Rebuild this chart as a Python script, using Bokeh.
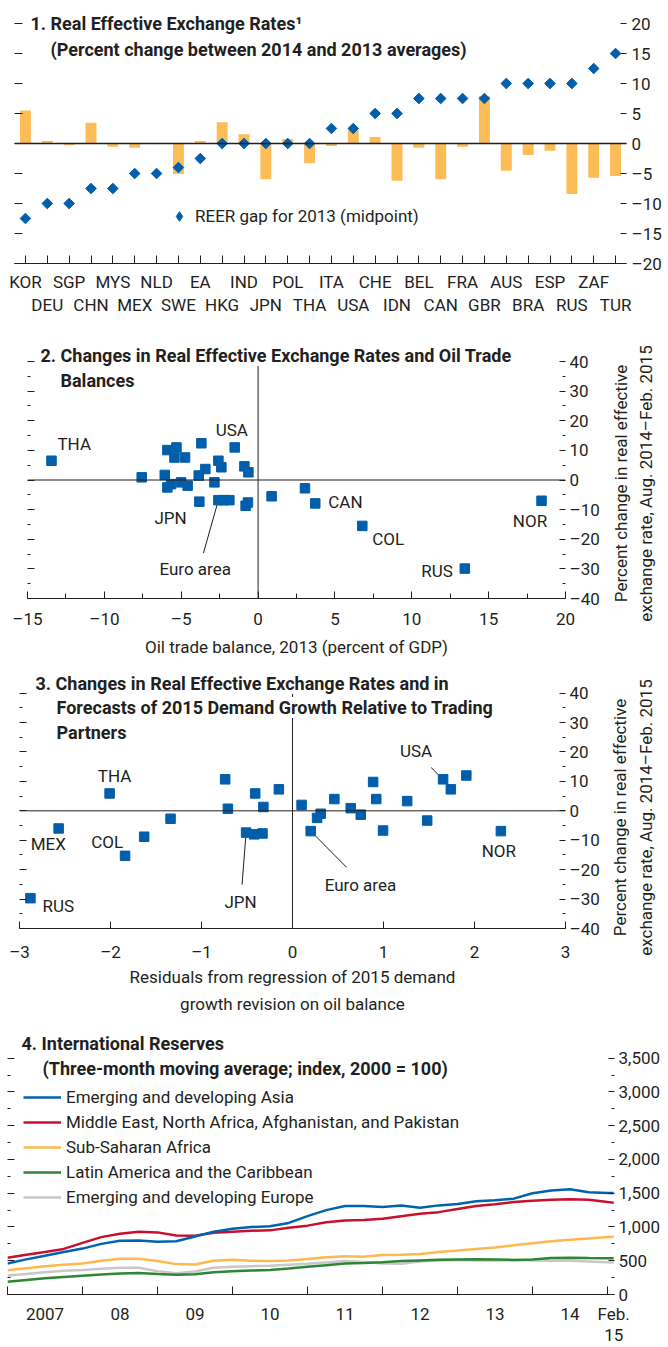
import math
from bokeh.plotting import figure
from bokeh.models import (ColumnDataSource, LinearAxis, FixedTicker, Range1d, Span,
                          Label, Legend, LegendItem)
from bokeh.layouts import column, row
from bokeh.embed import file_html
from bokeh.resources import INLINE
from bokeh.core.properties import value

# ---------------- data ----------------
# Panel 1: REER change 2014 vs 2013 (bars) and REER gap for 2013 (diamonds)
countries_1 = ["KOR", "DEU", "SGP", "CHN", "MYS", "MEX", "NLD", "SWE", "EA", "HKG",
               "IND", "JPN", "POL", "THA", "ITA", "USA", "CHE", "IDN", "BEL", "CAN",
               "FRA", "GBR", "AUS", "BRA", "ESP", "RUS", "ZAF", "TUR"]
reer_change_1 = [5.5, 0.4, -0.3, 3.45, -0.55, -0.7, 0.0, -5.1, 0.4, 3.55,
                 1.55, -5.95, 0.75, -3.3, -0.4, 2.2, 1.1, -6.2, -0.7, -5.95,
                 -0.55, 7.9, -4.55, -1.9, -1.2, -8.4, -5.7, -5.4]
reer_gap_2013 = [-12.5, -10, -10, -7.5, -7.5, -5, -5, -4, -2.5, 0,
                 0, 0, 0, 0, 2.5, 2.5, 5, 5, 7.5, 7.5,
                 7.5, 7.5, 10, 10, 10, 10, 12.5, 15]

# Panel 2: oil trade balance vs REER change
names_2 = ["THA", "", "", "", "", "", "", "", "USA", "", "", "", "", "", "", "",
           "JPN", "", "", "", "", "Euro area", "", "", "", "", "", "", "CAN", "COL",
           "RUS", "NOR"]
oil_balance_2 = [-13.44, -7.57, -6.07, -5.9, -5.31, -5.44, -4.75, -3.69, -1.52, -2.58,
                 -2.39, -3.43, -3.86, -2.84, -0.89, -0.63, -5.9, -5.66, -5.01, -4.58,
                 -3.82, -2.58, -2.22, -1.87, -0.81, -0.66, 0.88, 3.05, 3.72, 6.78,
                 13.45, 18.44]
reer_change_2 = [6.5, 0.9, 1.7, 10.1, 11.0, 7.6, 7.6, 12.4, 11.0, 6.5,
                 4.3, 3.7, 1.5, -0.8, 4.6, 2.6, -2.5, -1.4, -0.8, -1.9,
                 -7.3, -6.8, -6.8, -6.8, -8.7, -7.6, -5.5, -2.8, -7.9, -15.5,
                 -29.9, -7.0]

# Panel 3: demand-growth residuals vs REER change
names_3 = ["MEX", "RUS", "THA", "COL", "", "", "", "", "", "", "", "JPN", "", "", "",
           "", "", "Euro area", "", "", "", "", "", "", "", "", "USA", "", "", "NOR"]
demand_resid_3 = [-2.57, -2.88, -2.01, -1.84, -1.63, -1.34, -0.74, -0.71, -0.41, -0.32,
                  -0.15, -0.51, -0.42, -0.33, 0.10, 0.27, 0.31, 0.20, 0.46, 0.64,
                  0.75, 0.886, 0.92, 0.995, 1.26, 1.48, 1.655, 1.74, 1.91, 2.29]
reer_change_3 = [-6.0, -29.7, 5.9, -15.3, -8.8, -2.7, 10.7, 0.7, 5.9, 1.3,
                 7.3, -7.4, -8.0, -7.7, 2.0, -2.4, -1.0, -6.9, 4.0, 0.9,
                 -1.3, 9.8, 4.0, -6.7, 3.3, -3.3, 10.7, 7.3, 12.0, -6.9]

# Panel 4: international reserves (index, 2000 = 100), quarterly readings
dates_4 = [2007.0, 2007.25, 2007.5, 2007.75, 2008.0, 2008.25, 2008.5, 2008.75,
           2009.0, 2009.25, 2009.5, 2009.75, 2010.0, 2010.25, 2010.5, 2010.75,
           2011.0, 2011.25, 2011.5, 2011.75, 2012.0, 2012.25, 2012.5, 2012.75,
           2013.0, 2013.25, 2013.5, 2013.75, 2014.0, 2014.25, 2014.5, 2014.75,
           2015.0, 2015.083]
asia_4 = [460, 520, 575, 630, 680, 750, 795, 800, 780, 790, 860, 930, 975, 1000, 1010, 1060,
          1160, 1250, 1310, 1310, 1295, 1318, 1285, 1320, 1340, 1380, 1395, 1420, 1500, 1540,
          1560, 1515, 1505, 1505]
mena_4 = [545, 590, 630, 675, 765, 850, 900, 930, 920, 875, 872, 915, 930, 945, 950, 990,
          1020, 1070, 1095, 1105, 1122, 1160, 1195, 1220, 1265, 1310, 1337, 1370, 1390, 1405,
          1410, 1405, 1370, 1360]
ssa_4 = [360, 390, 420, 440, 460, 500, 530, 530, 495, 450, 445, 500, 515, 500, 497, 505,
         525, 550, 565, 560, 585, 590, 600, 630, 650, 675, 695, 730, 760, 790,
         810, 830, 850, 855]
lac_4 = [190, 215, 240, 260, 278, 295, 310, 320, 302, 293, 300, 330, 345, 355, 362, 385,
         410, 435, 460, 465, 478, 495, 505, 515, 520, 522, 520, 512, 520, 540,
         545, 540, 537, 536]
europe_4 = [280, 305, 330, 350, 362, 380, 395, 395, 345, 315, 340, 395, 412, 420, 425, 440,
            455, 475, 495, 480, 460, 455, 490, 505, 510, 505, 505, 510, 505, 500,
            500, 490, 478, 475]
series_names_4 = ["Emerging and developing Asia",
                  "Middle East, North Africa, Afghanistan, and Pakistan",
                  "Sub-Saharan Africa",
                  "Latin America and the Caribbean",
                  "Emerging and developing Europe"]
year_labels_4 = ["2007", "08", "09", "10", "11", "12", "13", "14"]

# ---------------- style ----------------
W = 668
MAIN_W = 608
FONT = "Roboto"
TXT = "#231f20"
BLUE = "#005eab"
YELLOW = "#fdbd56"
FS = "17px"
TFS = "18px"
LINE_COLORS = ["#0063b0", "#c8102e", "#fdb94d", "#2e8533", "#c8c8c8"]


def make_fig(w, h, xr, yr, left, right, top, bottom):
    p = figure(width=w, height=h, x_range=Range1d(*xr), y_range=Range1d(*yr),
               x_axis_location=None, y_axis_location=None,
               output_backend="svg", toolbar_location=None,
               min_border_left=left, min_border_right=right,
               min_border_top=top, min_border_bottom=bottom,
               background_fill_color="white", border_fill_color="white")
    p.frame_align = False
    p.outline_line_color = None
    p.grid.visible = False
    return p


def en(v):
    return f"{v:g}".replace("-", "\u2013")


def axis(p, side, ticks, minor=(), tick_in=0, minor_in=0, standoff=4, line=False,
         labels=True, overrides=None):
    ticks = list(ticks)
    ax = LinearAxis(ticker=FixedTicker(ticks=ticks, minor_ticks=list(minor)))
    ax.major_tick_in = tick_in
    ax.major_tick_out = 0
    ax.minor_tick_in = minor_in
    ax.minor_tick_out = 0
    ax.major_tick_line_color = TXT if tick_in else None
    ax.minor_tick_line_color = TXT if minor_in else None
    ax.axis_line_color = TXT if line else None
    ax.major_label_standoff = standoff
    ax.major_label_text_font = FONT
    ax.major_label_text_color = TXT
    if labels:
        ax.major_label_text_font_size = FS
        ax.major_label_overrides = overrides if overrides is not None else {t: en(t) for t in ticks}
    else:
        ax.major_label_standoff = 0
        ax.major_label_text_font_size = "0px"
        ax.major_label_overrides = {t: "" for t in ticks}
    p.add_layout(ax, side)
    return ax


def style_axis_label(ax, text, standoff, line_height=1.2):
    ax.axis_label = text
    ax.axis_label_standoff = standoff
    ax.axis_label_text_font = FONT
    ax.axis_label_text_font_size = FS
    ax.axis_label_text_font_style = "normal"
    ax.axis_label_text_color = TXT
    ax.axis_label_text_line_height = line_height


def label(p, text, x, y, size=TFS, bold=True, bg=False, angle=0.0, align="left"):
    p.add_layout(Label(x=x, y=y, x_units="screen", y_units="screen", text=text,
                       text_font=FONT, text_font_size=size,
                       text_font_style="bold" if bold else "normal",
                       text_color=TXT, text_align=align, text_baseline="middle",
                       angle=angle,
                       background_fill_color="white" if bg else None))


def side_fig(h, y_center, x1, x2):
    s = make_fig(W - MAIN_W, h, (0, 1), (0, 1), 0, 0, 0, 0)
    label(s, "Percent change in real effective", x1, y_center, size=FS, bold=False,
          angle=math.pi / 2, align="center")
    label(s, "exchange rate, Aug. 2014\u2013Feb. 2015", x2, y_center, size=FS, bold=False,
          angle=math.pi / 2, align="center")
    return s


def scatter_panel(p, xs, ys, names, spec, leaders, xpx, ypx):
    lx0, ly0, lx1, ly1 = [], [], [], []
    for x, y, n in zip(xs, ys, names):
        if n in leaders:
            dx, dy = leaders[n]
            lx0.append(x); ly0.append(y)
            lx1.append(x + dx / xpx); ly1.append(y - dy / ypx)
    if lx0:
        p.segment(x0=lx0, y0=ly0, x1=lx1, y1=ly1, line_color=TXT, line_width=1)
    p.scatter(x=xs, y=ys, marker="square", size=9.5, fill_color=BLUE, line_color=BLUE)
    tx, ty, tt, ox, oy, al = [], [], [], [], [], []
    for x, y, n in zip(xs, ys, names):
        if n in spec:
            dx, dy, a = spec[n]
            tx.append(x); ty.append(y); tt.append(n)
            ox.append(dx); oy.append(dy); al.append(a)
    src = ColumnDataSource(dict(x=tx, y=ty, t=tt, ox=ox, oy=oy, al=al))
    p.text(x="x", y="y", text="t", x_offset="ox", y_offset="oy", text_align="al",
           text_baseline="middle", text_font=value(FONT), text_font_size=FS,
           text_color=TXT, source=src)


# ---------------- panel 1 ----------------
H1, L1, R1, T1, B1 = 326, 14, 42, 2, 63
FH1 = H1 - T1 - B1
PPU1 = 6.0
idx = list(range(len(countries_1)))
yt1 = list(range(-20, 21, 5))
p1 = make_fig(W, H1, (-0.5, len(countries_1) - 0.5), (yt1[0], yt1[0] + FH1 / PPU1),
              L1, R1, T1, B1)
axis(p1, "right", yt1, tick_in=6, standoff=5)
axis(p1, "left", yt1, tick_in=8, labels=False)
axis(p1, "below", idx, tick_in=8, standoff=8, line=True,
     overrides={i: (c if i % 2 == 0 else "") for i, c in enumerate(countries_1)})
axis(p1, "below", idx, standoff=0,
     overrides={i: (c if i % 2 == 1 else "") for i, c in enumerate(countries_1)})
p1.vbar(x=idx, top=reer_change_1, width=0.5, fill_color=YELLOW, line_color=None)
p1.add_layout(Span(location=0, dimension="width", line_color=TXT, line_width=1.3))
p1.scatter(x=idx, y=reer_gap_2013, marker="square", angle=math.pi / 4, size=7.5,
           fill_color=BLUE, line_color=BLUE)
# legend key: same series on an off-screen range, so only its legend swatch shows
p1.extra_y_ranges = {"key": Range1d(start=1e6, end=1e6 + 1)}
dia_key = p1.scatter(x=idx, y=reer_gap_2013, y_range_name="key", marker="diamond",
                     size=12, fill_color=BLUE, line_color=BLUE)
leg1 = Legend(items=[LegendItem(label="REER gap for 2013 (midpoint)", renderers=[dia_key])],
              location=(153, 35), glyph_width=24, glyph_height=24, label_height=24,
              label_standoff=4, padding=0, margin=0, border_line_color=None,
              background_fill_alpha=0, label_text_font=FONT, label_text_font_size=FS,
              label_text_color=TXT)
p1.add_layout(leg1)
label(p1, "1. Real Effective Exchange Rates\u00b9", 16, FH1 - 21)
label(p1, "(Percent change between 2014 and 2013 averages)", 36, FH1 - 47)

# ---------------- panel 2 ----------------
H2, L2, R2, T2, B2 = 336, 27, MAIN_W - 565, 14, 64
FH2 = H2 - T2 - B2
FW2 = MAIN_W - L2 - R2
yt = list(range(-40, 41, 10))
ym = list(range(-35, 36, 10))
PPU2 = 237 / 80
p2 = make_fig(MAIN_W, H2, (-15, 20), (-40, -40 + FH2 / PPU2), L2, R2, T2, B2)
axis(p2, "right", yt, ym, tick_in=6, minor_in=3, standoff=4)
axis(p2, "left", yt, ym, tick_in=7, minor_in=3, labels=False)
ax2 = axis(p2, "below", list(range(-15, 21, 5)), [-12.5 + 5 * k for k in range(7)],
           tick_in=7, minor_in=5, standoff=10, line=True)
style_axis_label(ax2, "Oil trade balance, 2013 (percent of GDP)", 5)
p2.add_layout(Span(location=0, dimension="width", line_color=TXT, line_width=1))
p2.segment(x0=[0], y0=[yt[0]], x1=[0], y1=[yt[-1]], line_color=TXT, line_width=1)
spec2 = {"THA": (6, -17, "left"), "USA": (-19, -17, "left"), "JPN": (-13, 31, "left"),
         "Euro area": (-59, 69, "left"), "CAN": (13, -1, "left"), "COL": (10, 13, "left"),
         "RUS": (-12, 2, "right"), "NOR": (-11.5, 20, "center")}
leaders2 = {"Euro area": (-15, 53)}
scatter_panel(p2, oil_balance_2, reer_change_2, names_2, spec2, leaders2, FW2 / 35, PPU2)
label(p2, "2. Changes in Real Effective Exchange Rates and Oil Trade", 13, 243, bg=True)
label(p2, "Balances", 33, 218, bg=True)
s2 = side_fig(H2, 179, 12, 37)

# ---------------- panel 3 ----------------
H3, L3, R3, T3, B3 = 354, 19, MAIN_W - 565, 12, 83
FH3 = H3 - T3 - B3
FW3 = MAIN_W - L3 - R3
PPU3 = 3.0
p3 = make_fig(MAIN_W, H3, (-3, 3), (-40, -40 + FH3 / PPU3), L3, R3, T3, B3)
axis(p3, "right", yt, ym, tick_in=6, minor_in=3, standoff=4)
axis(p3, "left", yt, ym, tick_in=7, minor_in=3, labels=False)
ax3 = axis(p3, "below", list(range(-3, 4)), tick_in=7, standoff=13, line=True)
style_axis_label(ax3, "Residuals from regression of 2015 demand\ngrowth revision on oil balance",
                 2, 1.35)
p3.add_layout(Span(location=0, dimension="width", line_color=TXT, line_width=1))
p3.segment(x0=[0], y0=[yt[0]], x1=[0], y1=[yt[-1]], line_color=TXT, line_width=1)
spec3 = {"THA": (5, -17, "center"), "MEX": (-28, 16, "left"), "COL": (-2, -14, "right"),
         "RUS": (12, 8, "left"), "JPN": (-5.5, 69, "center"), "Euro area": (14, 54, "left"),
         "USA": (-27, -28, "center"), "NOR": (-2, 20, "center")}
leaders3 = {"JPN": (-4, 53), "Euro area": (36, 37), "USA": (-12, -12)}
scatter_panel(p3, demand_resid_3, reer_change_3, names_3, spec3, leaders3, FW3 / 6, PPU3)
label(p3, "3. Changes in Real Effective Exchange Rates and in", 16, 245, bg=True)
label(p3, "Forecasts of 2015 Demand Growth Relative to Trading", 37, 221, bg=True)
label(p3, "Partners", 37, 196, bg=True)
s3 = side_fig(H3, 199, 11, 37)

# ---------------- panel 4 ----------------
H4, L4, R4, T4, B4 = 331, 7, 54, 16, 50
FH4 = H4 - T4 - B4
FW4 = W - L4 - R4
PPU4 = 239 / 3500
p4 = make_fig(W, H4, (2007.0, 2007.0 + FW4 / 75), (0, FH4 / PPU4), L4, R4, T4, B4)
yt4 = list(range(0, 3501, 500))
ym4 = list(range(250, 3500, 500))
axis(p4, "right", yt4, ym4, tick_in=6, minor_in=3, standoff=4,
     overrides={t: f"{t:,}" for t in yt4})
axis(p4, "left", yt4, ym4, tick_in=7, minor_in=3, labels=False)
mid_years = [2007.5 + k for k in range(len(year_labels_4))]
feb15 = dates_4[-1]
ov4 = {m: s for m, s in zip(mid_years, year_labels_4)}
ov4[feb15] = "Feb.\n15"
ax4 = axis(p4, "below", mid_years + [feb15], list(range(2007, 2016)), tick_in=0,
           minor_in=8, standoff=9, line=True, overrides=ov4)
ax4.major_label_text_line_height = 1.05
series_4 = [asia_4, mena_4, ssa_4, lac_4, europe_4]
drawn = {}
for k in reversed(range(len(series_4))):
    drawn[k] = p4.line(x=dates_4, y=series_4[k], line_color=LINE_COLORS[k], line_width=2.5)
leg4 = Legend(items=[LegendItem(label=series_names_4[k], renderers=[drawn[k]])
                     for k in range(len(series_4))],
              location=(16, 87), glyph_width=38, glyph_height=20, label_height=20,
              spacing=5, label_standoff=5, padding=0, margin=0, border_line_color=None,
              background_fill_alpha=0, label_text_font=FONT, label_text_font_size=FS,
              label_text_color=TXT)
p4.add_layout(leg4)
label(p4, "4. International Reserves", 14, 251)
label(p4, "(Three-month moving average; index, 2000 = 100)", 35, 226)

layout = column(p1, row(p2, s2), row(p3, s3), p4)
open("out.html", "w").write(file_html(layout, INLINE))
